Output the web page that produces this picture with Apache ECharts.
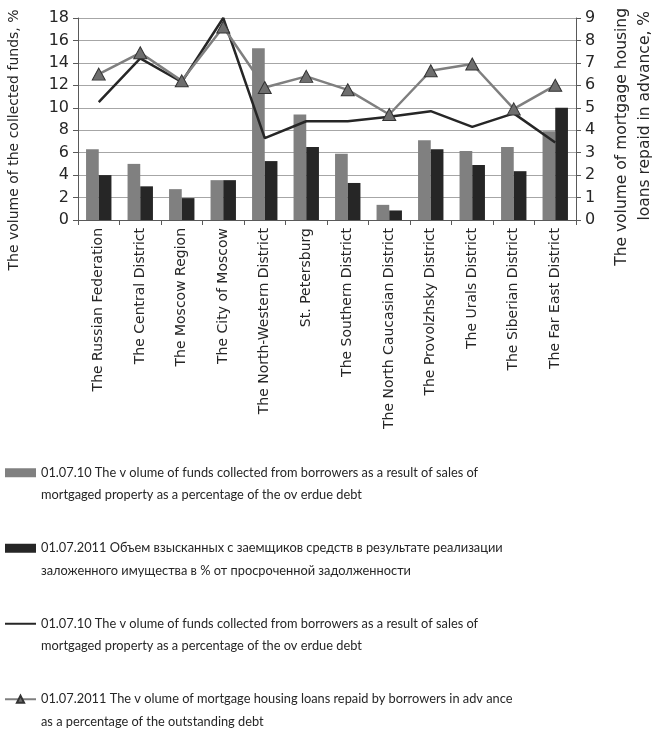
<!DOCTYPE html>
<html>
<head>
<meta charset="utf-8">
<script src="https://cdn.jsdelivr.net/npm/echarts@6/dist/echarts.min.js"></script>
<style>
  html, body { margin: 0; padding: 0; background: #fff; }
  #chart { width: 661px; height: 731px; }
</style>
</head>
<body>
<div id="chart"></div>
<script>
// Regions of Russia
const categories = [
  'The Russian Federation', 'The Central District', 'The Moscow Region',
  'The City of Moscow', 'The North-Western District', 'St. Petersburg',
  'The Southern District', 'The North Caucasian District',
  'The Provolzhsky District', 'The Urals District', 'The Siberian District',
  'The Far East District'
];

// Funds collected from sale of mortgaged property, % of overdue debt (left axis)
const collected2010 = [6.3, 5.0, 2.75, 3.55, 15.3, 9.4, 5.9, 1.35, 7.1, 6.15, 6.5, 7.9];
const collected2011 = [4.0, 3.0, 1.95, 3.55, 5.25, 6.5, 3.3, 0.85, 6.3, 4.9, 4.35, 10.0];

// Mortgage loans repaid in advance, % (right axis)
const repaid2010 = [5.25, 7.2, 6.15, 9.0, 3.65, 4.4, 4.4, 4.6, 4.85, 4.15, 4.75, 3.45];
const repaid2011 = [6.5, 7.45, 6.2, 8.6, 5.9, 6.4, 5.8, 4.7, 6.65, 6.95, 4.95, 6.0];

const leftTicks = { min: 0, max: 18, interval: 2 };
const rightTicks = { min: 0, max: 9, interval: 1 };

const seriesNames = [
  ['01.07.10 The v olume of funds collected from borrowers as a result of sales of',
   'mortgaged property as a percentage of the ov erdue debt'],
  ['01.07.2011 Объем взысканных с заемщиков средств в результате реализации',
   'заложенного имущества в % от просроченной задолженности'],
  ['01.07.10 The v olume of funds collected from borrowers as a result of sales of',
   'mortgaged property as a percentage of the ov erdue debt'],
  ['01.07.2011 The v olume of mortgage housing loans repaid by borrowers in adv ance',
   'as a percentage of the outstanding debt']
];
// legend entries need distinct keys; the visible text comes from seriesNames
const legendKeys = ['s1', 's2', 's3', 's4'];

const FONT = "'DejaVu Sans'";
const LEGEND_FONT = 'Lato';
const AXIS_COLOR = '#595959';
const TEXT_COLOR = '#262626';

const chart = echarts.init(document.getElementById('chart'), null, { renderer: 'canvas' });

chart.setOption({
  animation: false,
  textStyle: { fontFamily: 'DejaVu Sans' },
  grid: { left: 78, right: 85, top: 18, height: 202, containLabel: false },
  legend: {
    orient: 'vertical',
    left: 4,
    top: 439,
    height: 300,
    padding: 0,
    itemWidth: 31,
    itemHeight: 9,
    itemGap: 8,
    data: [
      { name: 's1', icon: 'rect' },
      { name: 's2', icon: 'rect' },
      { name: 's3', itemStyle: { opacity: 0 } },
      { name: 's4' }
    ],
    // leading blank line keeps the icon level with the first text line
    formatter: function (name) {
      const t = seriesNames[legendKeys.indexOf(name)];
      return '\n' + t[0] + '\n' + t[1];
    },
    textStyle: { fontFamily: LEGEND_FONT, fontSize: 12.8, color: TEXT_COLOR, lineHeight: 22.5 }
  },
  xAxis: {
    type: 'category',
    data: categories,
    boundaryGap: true,
    axisLine: { lineStyle: { color: AXIS_COLOR } },
    axisTick: { show: true, length: 5, lineStyle: { color: AXIS_COLOR } },
    axisLabel: {
      rotate: 90, interval: 0, fontFamily: 'DejaVu Sans', fontSize: 14,
      color: TEXT_COLOR, margin: 8
    }
  },
  yAxis: [
    {
      type: 'value', position: 'left',
      min: leftTicks.min, max: leftTicks.max, interval: leftTicks.interval,
      axisLine: { show: true, lineStyle: { color: AXIS_COLOR } },
      axisTick: { show: true, length: 5, lineStyle: { color: AXIS_COLOR } },
      splitLine: { lineStyle: { color: '#a6a6a6' } },
      axisLabel: { fontFamily: 'DejaVu Sans', fontSize: 16, color: TEXT_COLOR, margin: 9 }
    },
    {
      type: 'value', position: 'right',
      min: rightTicks.min, max: rightTicks.max, interval: rightTicks.interval,
      axisLine: { show: true, lineStyle: { color: AXIS_COLOR } },
      axisTick: { show: true, length: 5, lineStyle: { color: AXIS_COLOR } },
      splitLine: { show: false },
      axisLabel: { fontFamily: 'DejaVu Sans', fontSize: 16, color: TEXT_COLOR, margin: 9 }
    }
  ],
  graphic: [
    {
      type: 'text', rotation: Math.PI / 2, x: 14, y: 140,
      style: {
        text: 'The volume of the collected funds, %',
        font: '14px ' + FONT, fill: TEXT_COLOR, align: 'center', verticalAlign: 'middle'
      }
    },
    {
      type: 'text', rotation: Math.PI / 2, x: 622, y: 8,
      style: {
        text: 'The volume of mortgage housing',
        font: '15.5px ' + FONT, fill: TEXT_COLOR, align: 'right', verticalAlign: 'middle'
      }
    },
    {
      type: 'text', rotation: Math.PI / 2, x: 645, y: 11,
      style: {
        text: 'loans repaid in advance, %',
        font: '15.5px ' + FONT, fill: TEXT_COLOR, align: 'right', verticalAlign: 'middle'
      }
    }
  ],
  series: [
    {
      name: 's1', type: 'bar', yAxisIndex: 0, data: collected2010,
      barWidth: 12.7, barGap: '0%',
      itemStyle: { color: '#808080' }
    },
    {
      name: 's2', type: 'bar', yAxisIndex: 0, data: collected2011,
      barWidth: 12.7, barGap: '0%',
      itemStyle: { color: '#262626' }
    },
    {
      name: 's3', type: 'line', yAxisIndex: 1, data: repaid2010,
      symbol: 'none',
      lineStyle: { color: '#262626', width: 2.5 },
      itemStyle: { color: '#262626' }
    },
    {
      name: 's4', type: 'line', yAxisIndex: 1, data: repaid2011,
      symbol: 'triangle', symbolSize: [13, 12],
      lineStyle: { color: '#7f7f7f', width: 2.5 },
      itemStyle: { color: '#6e6e6e', borderColor: '#333', borderWidth: 1 }
    }
  ]
});
</script>
</body>
</html>
